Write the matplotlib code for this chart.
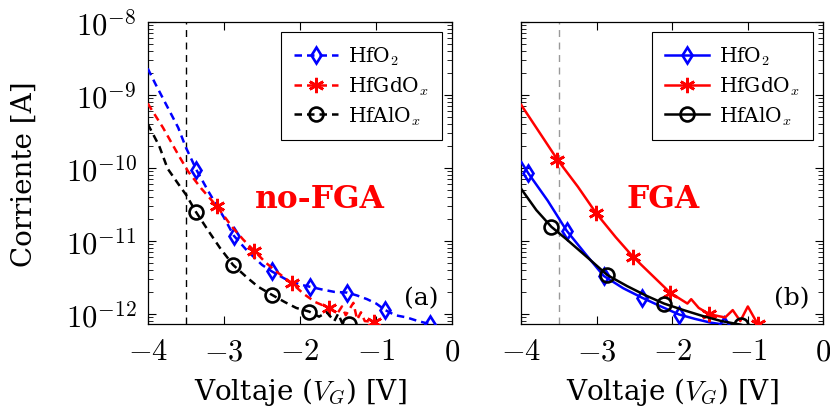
import numpy as np
import matplotlib
matplotlib.use("Agg")
import matplotlib.pyplot as plt
from matplotlib.ticker import LogLocator, NullFormatter, FixedLocator, FixedFormatter

plt.rcParams["mathtext.fontset"] = "cm"
plt.rcParams["font.family"] = ["DejaVu Serif"]

# ---- Data: gate voltage [V] and log10 of current [A] ----
# no-FGA samples
nofga_hfo2_v = [-4.0, -3.9, -3.8, -3.7, -3.6, -3.5, -3.36, -3.2, -3.0, -2.87, -2.7, -2.5,
                -2.37, -2.2, -2.0, -1.87, -1.7, -1.55, -1.38, -1.25, -1.12, -1.0, -0.88,
                -0.75, -0.6, -0.45, -0.30]
nofga_hfo2_logi = [-8.64, -8.85, -9.05, -9.25, -9.45, -9.72, -10.03, -10.33, -10.68, -10.93,
                   -11.13, -11.33, -11.42, -11.52, -11.60, -11.63, -11.67, -11.70, -11.71,
                   -11.75, -11.80, -11.86, -11.95, -12.02, -12.05, -12.10, -12.14]
nofga_hfo2_marks = [6, 9, 12, 15, 18, 22, 26]

nofga_hfgdo_v = [-4.0, -3.8, -3.6, -3.47, -3.3, -3.09, -2.9, -2.75, -2.60, -2.45, -2.3, -2.11,
                 -1.95, -1.8, -1.62, -1.5, -1.45, -1.4, -1.3, -1.25, -1.2, -1.15, -1.03]
nofga_hfgdo_logi = [-9.12, -9.45, -9.82, -10.05, -10.28, -10.53, -10.80, -10.98, -11.14,
                    -11.30, -11.43, -11.58, -11.73, -11.84, -11.92, -11.98, -11.90, -12.02,
                    -11.85, -12.08, -11.98, -12.10, -12.11]
nofga_hfgdo_marks = [5, 8, 11, 14, 22]

nofga_hfalo_v = [-4.0, -3.85, -3.74, -3.6, -3.49, -3.37, -3.2, -3.05, -2.88, -2.7, -2.55,
                 -2.37, -2.2, -2.05, -1.88, -1.75, -1.65, -1.55, -1.5, -1.45, -1.36]
nofga_hfalo_logi = [-9.40, -9.70, -10.01, -10.22, -10.38, -10.60, -10.87, -11.10, -11.33,
                    -11.50, -11.63, -11.74, -11.84, -11.92, -11.97, -12.04, -11.98, -12.10,
                    -12.00, -12.12, -12.14]
nofga_hfalo_marks = [5, 8, 11, 14, 20]

# FGA samples
fga_hfo2_v = [-4.0, -3.91, -3.65, -3.40, -3.15, -2.91, -2.65, -2.40, -2.15, -1.91, -1.7,
              -1.5, -1.31]
fga_hfo2_logi = [-9.92, -10.07, -10.45, -10.86, -11.18, -11.48, -11.65, -11.78, -11.90,
                 -12.01, -12.07, -12.12, -12.15]
fga_hfo2_marks = [1, 3, 5, 7, 9, 12]

fga_hfgdo_v = [-4.0, -3.75, -3.52, -3.25, -3.01, -2.75, -2.52, -2.25, -2.03, -1.8, -1.75,
               -1.65, -1.52, -1.4, -1.3, -1.2, -1.1, -1.0, -0.87]
fga_hfgdo_logi = [-9.14, -9.53, -9.89, -10.26, -10.62, -10.95, -11.22, -11.49, -11.71,
                  -11.86, -11.80, -11.92, -12.00, -12.03, -12.05, -11.95, -12.10, -11.90,
                  -12.14]
fga_hfgdo_marks = [2, 4, 6, 8, 12, 18]

fga_hfalo_v = [-4.0, -3.8, -3.60, -3.4, -3.1, -2.86, -2.6, -2.35, -2.11, -1.85, -1.6,
               -1.35, -1.09]
fga_hfalo_logi = [-10.29, -10.58, -10.81, -10.98, -11.25, -11.47, -11.62, -11.75, -11.86,
                  -11.95, -12.03, -12.10, -12.15]
fga_hfalo_marks = [2, 5, 8, 12]

labels = ["HfO$_2$", "HfGdO$_x$", "HfAlO$_x$"]
x_ticks = [-4, -3, -2, -1, 0]
x_tick_labels = [r"$-4$", r"$-3$", r"$-2$", r"$-1$", r"$0$"]
y_ticks = [1e-12, 1e-11, 1e-10, 1e-9, 1e-8]
y_tick_labels = [r"$10^{-12}$", r"$10^{-11}$", r"$10^{-10}$", r"$10^{-9}$", r"$10^{-8}$"]

colors = ["#0000ff", "#ff0000", "#000000"]
markers = ["d", (6, 2, 0), "o"]
marker_sizes = [8, 11, 10]

fig = plt.figure(figsize=(8.3, 4.14), dpi=100)
ax_a = fig.add_axes([0.178, 0.215, 0.367, 0.73])
ax_b = fig.add_axes([0.628, 0.215, 0.364, 0.73])

panels = [
    (ax_a, [(nofga_hfo2_v, nofga_hfo2_logi, nofga_hfo2_marks),
            (nofga_hfgdo_v, nofga_hfgdo_logi, nofga_hfgdo_marks),
            (nofga_hfalo_v, nofga_hfalo_logi, nofga_hfalo_marks)],
     (0, (3, 2)), "black", "no-FGA", (0.566, 0.414), "(a)"),
    (ax_b, [(fga_hfo2_v, fga_hfo2_logi, fga_hfo2_marks),
            (fga_hfgdo_v, fga_hfgdo_logi, fga_hfgdo_marks),
            (fga_hfalo_v, fga_hfalo_logi, fga_hfalo_marks)],
     "-", "#999999", "FGA", (0.47, 0.414), "(b)"),
]

for ax, series, ls, vcol, tag, tag_xy, letter in panels:
    ax.axvline(-3.5, color=vcol, lw=1.0, ls=(0, (5, 4)), zorder=1)
    for (v, li, mk), lab, col, m, ms in zip(series, labels, colors, markers, marker_sizes):
        ax.plot(v, np.power(10.0, li), ls=ls, lw=1.8, color=col, marker=m,
                markevery=mk, ms=ms, mfc="none", mec=col, mew=1.9,
                label=lab, zorder=3)
    ax.set_yscale("log")
    ax.set_xlim(-4, 0)
    ax.set_ylim(10 ** -12.14, 1e-8)
    ax.xaxis.set_major_locator(FixedLocator(x_ticks))
    ax.xaxis.set_major_formatter(FixedFormatter(x_tick_labels))
    ax.yaxis.set_major_locator(FixedLocator(y_ticks))
    ax.yaxis.set_major_formatter(FixedFormatter(y_tick_labels))
    ax.yaxis.set_minor_locator(LogLocator(base=10, subs=np.arange(2, 10), numticks=10))
    ax.yaxis.set_minor_formatter(NullFormatter())
    ax.tick_params(which="both", direction="in", top=True, right=True, labelsize=22)
    ax.tick_params(which="major", length=6, width=0.8, pad=8)
    ax.tick_params(which="minor", length=3.5, width=0.6)
    for sp in ax.spines.values():
        sp.set_linewidth(0.9)
    ax.set_xlabel(r"Voltaje ($V_G$) [V]", fontsize=20, va="top")
    ax.xaxis.set_label_coords(0.5, -0.17)
    ax.text(tag_xy[0], tag_xy[1], tag, transform=ax.transAxes, ha="center",
            va="center", color="red", fontsize=22.5, fontweight="bold")
    ax.text(0.955, 0.088, letter, transform=ax.transAxes, ha="right", va="center",
            fontsize=18)
    leg = ax.legend(loc="upper right", fontsize=14.5, frameon=True, fancybox=False,
                    framealpha=1, edgecolor="black", borderpad=0.65, labelspacing=0.36,
                    handlelength=2.2, handletextpad=0.5, borderaxespad=0.5)
    leg.get_frame().set_linewidth(0.8)

ax_a.set_ylabel("Corriente [A]", fontsize=20)
ax_a.yaxis.set_label_coords(-0.36, 0.5)
ax_b.tick_params(axis="y", which="both", labelleft=False)

fig.savefig("out.png", dpi=100)
